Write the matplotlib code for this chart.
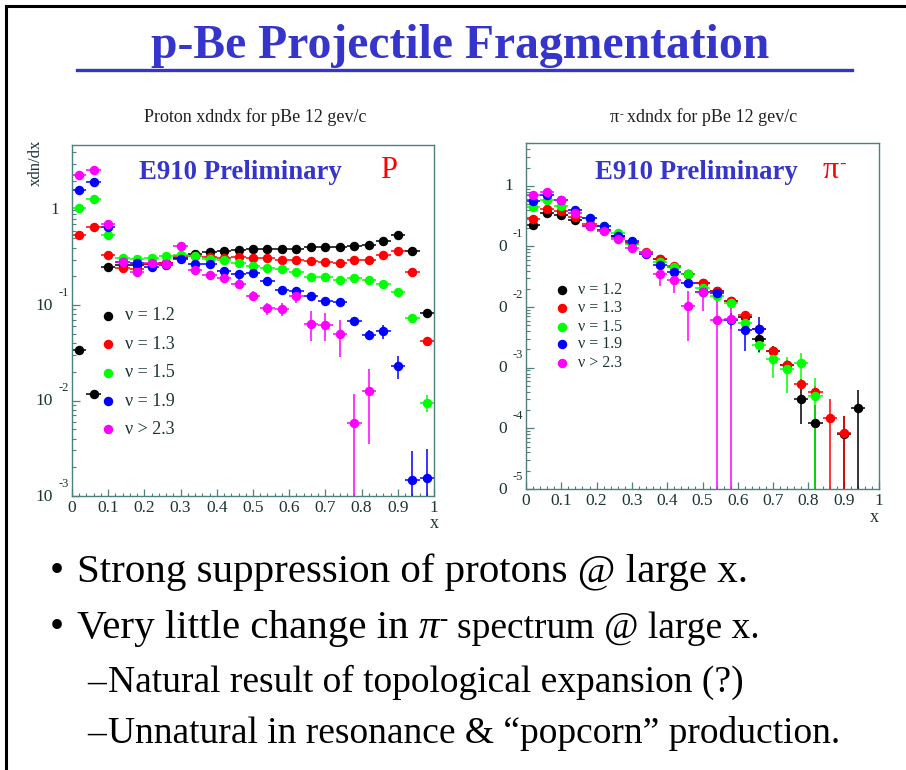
import numpy as np
import matplotlib
matplotlib.use("Agg")
import matplotlib.pyplot as plt
from matplotlib.lines import Line2D
from matplotlib.ticker import FixedLocator, FixedFormatter, NullFormatter, MultipleLocator

plt.rcParams['font.family'] = ['Liberation Serif', 'DejaVu Serif']
plt.rcParams['mathtext.fontset'] = 'stix'

nan = np.nan

# ---------------- data ----------------
x_bins = [0.02, 0.06, 0.10, 0.14, 0.18, 0.22, 0.26, 0.30, 0.34, 0.38, 0.42, 0.46, 0.50,
          0.54, 0.58, 0.62, 0.66, 0.70, 0.74, 0.78, 0.82, 0.86, 0.90, 0.94, 0.98]
bin_half_width = 0.02

series_labels = ["ν = 1.2", "ν = 1.3", "ν = 1.5", "ν = 1.9", "ν > 2.3"]
series_colors = ["#000000", "#ff0000", "#00ff00", "#0000ff", "#ff00ff"]

# proton x dn/dx
p_nu12 = [0.034, 0.0118, 0.252, 0.26, 0.265, 0.27, 0.274, 0.309, 0.34, 0.361, 0.370, 0.374, 0.383,
          0.39, 0.387, 0.383, 0.405, 0.405, 0.405, 0.419, 0.429, 0.468, 0.540, 0.371, 0.0826]
p_nu13 = [0.536, 0.654, 0.337, 0.245, 0.237, 0.27, 0.279, 0.327, 0.327, 0.316, 0.31, 0.316, 0.31,
          0.31, 0.299, 0.299, 0.292, 0.285, 0.279, 0.299, 0.297, 0.337, 0.365, 0.221, 0.042]
p_nu15 = [1.03, 1.30, 0.536, 0.309, 0.302, 0.31, 0.327, 0.337, 0.327, 0.307, 0.296, 0.274, 0.257,
          0.245, 0.237, 0.224, 0.199, 0.199, 0.182, 0.191, 0.185, 0.166, 0.138, 0.0738, 0.0095]
p_nu19 = [1.59, 1.93, 0.66, 0.283, 0.274, 0.253, 0.261, 0.302, 0.27, 0.267, 0.23, 0.21, 0.219,
          0.179, 0.145, 0.142, 0.124, 0.109, 0.107, 0.068, 0.049, 0.053, 0.0232, 0.00147, 0.00154]
p_nu23 = [2.30, 2.61, 0.715, 0.283, 0.222, 0.279, 0.27, 0.415, 0.233, 0.207, 0.191, 0.166, 0.125,
          0.0923, 0.0908, 0.125, 0.064, 0.0624, 0.0494, 0.0058, 0.0125, nan, nan, nan, nan]

# relative uncertainties of the proton points
p_rel12 = [0.08, 0.08, 0.06, 0.06, 0.06, 0.06, 0.06, 0.06, 0.06, 0.06, 0.06, 0.06, 0.06,
           0.06, 0.06, 0.06, 0.06, 0.06, 0.06, 0.06, 0.06, 0.06, 0.06, 0.06, 0.10]
p_rel13 = [0.06, 0.06, 0.06, 0.06, 0.06, 0.06, 0.06, 0.06, 0.06, 0.06, 0.06, 0.06, 0.06,
           0.06, 0.06, 0.06, 0.06, 0.06, 0.06, 0.06, 0.06, 0.06, 0.06, 0.07, 0.10]
p_rel15 = [0.06, 0.06, 0.06, 0.06, 0.06, 0.06, 0.06, 0.06, 0.06, 0.06, 0.06, 0.06, 0.06,
           0.06, 0.06, 0.06, 0.06, 0.06, 0.06, 0.06, 0.06, 0.06, 0.07, 0.08, 0.20]
p_rel19 = [0.06, 0.06, 0.06, 0.06, 0.06, 0.06, 0.06, 0.06, 0.06, 0.06, 0.06, 0.06, 0.06,
           0.06, 0.07, 0.07, 0.07, 0.08, 0.08, 0.10, 0.12, 0.17, 0.27, 1.0, 1.0]
p_rel23 = [0.06, 0.06, 0.06, 0.07, 0.07, 0.07, 0.07, 0.08, 0.08, 0.08, 0.10, 0.12, 0.12,
           0.15, 0.15, 0.15, 0.35, 0.32, 0.42, 1.0, 0.72, nan, nan, nan, nan]

# pi- x dn/dx
r_nu12 = [0.224, 0.351, 0.326, 0.277, 0.221, 0.185, 0.148, 0.115, 0.077, 0.0612, 0.0465, 0.0348, 0.0245,
          0.0183, 0.0124, 0.0068, 0.00299, 0.00192, 0.00109, 0.00031, 0.000121, nan, 7.97e-5, 0.000213, nan]
r_nu13 = [0.288, 0.414, 0.379, 0.303, 0.23, 0.19, 0.145, 0.113, 0.0807, 0.0628, 0.0476, 0.0348, 0.025,
          0.0185, 0.0124, 0.0074, 0.00436, 0.00192, 0.00112, 0.000547, 0.000399, 0.000150, 8.28e-5, nan, nan]
r_nu15 = [0.447, 0.589, 0.47, 0.357, 0.291, 0.215, 0.168, 0.111, 0.077, 0.0561, 0.0465, 0.0357, 0.021,
          0.0153, 0.0116, 0.00547, 0.00236, 0.00137, 0.00094, 0.00119, 0.000339, nan, nan, nan, nan]
r_nu19 = [0.553, 0.693, 0.575, 0.404, 0.291, 0.219, 0.151, 0.124, 0.0758, 0.0488, 0.0385, 0.0245, 0.0174,
          0.0170, 0.0062, 0.00424, 0.00436, nan, nan, nan, nan, nan, nan, nan, nan]
r_nu23 = [0.693, 0.787, 0.589, 0.357, 0.221, 0.178, 0.134, 0.095, 0.077, 0.0348, 0.0281, 0.0105, 0.0174,
          0.0062, 0.0063, nan, nan, nan, nan, nan, nan, nan, nan, nan, nan]

# relative uncertainties of the pi- points
r_rel12 = [0.1, 0.1, 0.1, 0.1, 0.1, 0.1, 0.1, 0.1, 0.1, 0.1, 0.1, 0.1, 0.1,
           0.1, 0.1, 0.15, 0.2, 0.2, 0.25, 0.62, 1.0, nan, 1.0, 1.0, nan]
r_rel13 = [0.1, 0.1, 0.1, 0.1, 0.1, 0.1, 0.1, 0.1, 0.1, 0.1, 0.1, 0.1, 0.1,
           0.1, 0.1, 0.15, 0.2, 0.2, 0.2, 0.2, 0.25, 1.0, 0.9, nan, nan]
r_rel15 = [0.1, 0.1, 0.1, 0.1, 0.1, 0.1, 0.1, 0.1, 0.1, 0.1, 0.1, 0.1, 0.1,
           0.1, 0.1, 0.2, 0.25, 0.5, 0.6, 0.45, 1.0, nan, nan, nan, nan]
r_rel19 = [0.1, 0.1, 0.1, 0.1, 0.1, 0.1, 0.1, 0.1, 0.1, 0.1, 0.1, 0.1, 0.1,
           0.2, 0.3, 0.55, 0.58, nan, nan, nan, nan, nan, nan, nan, nan]
r_rel23 = [0.1, 0.1, 0.1, 0.1, 0.1, 0.1, 0.1, 0.1, 0.1, 0.35, 0.4, 0.74, 0.5,
           1.05, 1.05, nan, nan, nan, nan, nan, nan, nan, nan, nan, nan]

x_tick_values = [0, 0.1, 0.2, 0.3, 0.4, 0.5, 0.6, 0.7, 0.8, 0.9, 1.0]
x_tick_labels = ["0", "0.1", "0.2", "0.3", "0.4", "0.5", "0.6", "0.7", "0.8", "0.9", "1"]
p_decades = [-3, -2, -1, 0]
r_decades = [-5, -4, -3, -2, -1, 0]

slide_title = "p-Be Projectile Fragmentation"
proton_title = "Proton xdndx for pBe 12 gev/c"
pion_title_tail = " xdndx for pBe 12 gev/c"
bullet_1 = "Strong suppression of protons @ large x."
bullet_2_head = "Very little change in "
bullet_2_tail = " spectrum @ large x."
sub_1 = "Natural result of topological expansion (?)"
sub_2 = "Unnatural in resonance & \u201cpopcorn\u201d production."

# ---------------- figure layout (pixel helpers) ----------------
W, H = 906, 770
fig = plt.figure(figsize=(W / 100, H / 100), dpi=100)
renderer = fig.canvas.get_renderer()


def fx(px):
    return px / W


def fy(py):
    return 1 - py / H


def ink_width(s, **kw):
    t = fig.text(0, 0, s, **kw)
    w = t.get_window_extent(renderer=renderer).width
    t.remove()
    return w


def advance(s, **kw):
    # horizontal advance of s (spaces included), in pixels
    return ink_width("x" + s + "x", **kw) - ink_width("xx", **kw)


def draw_runs(x_px, y_px, runs):
    """Write consecutive text runs on one baseline; each run is (text, kwargs, raise_px)."""
    x = x_px
    for s, kw, dy in runs:
        core = s.strip(" ")
        lead = len(s) - len(s.lstrip(" "))
        trail = len(s) - len(s.rstrip(" "))
        if lead:
            x += advance(" " * lead, **kw)
        fig.text(fx(x), fy(y_px - dy), core, ha="left", va="baseline", **kw)
        x += advance(core, **kw)
        if trail:
            x += advance(" " * trail, **kw)
    return x


FRAME = "#4f7f7f"
LABEL = "#1c3434"
BLUE = "#3535cc"

# slide border (top and left)
fig.add_artist(Line2D([fx(6), fx(6)], [0, fy(6)], color="black", lw=2.2))
fig.add_artist(Line2D([fx(6), 1], [fy(6), fy(6)], color="black", lw=2.2))

# slide title with underline
fig.text(fx(460), fy(58), slide_title, ha="center", va="baseline",
         fontsize=34.3, fontweight="bold", color=BLUE)
fig.add_artist(Line2D([fx(77), fx(852)], [fy(70), fy(70)], color=BLUE, lw=2.4))


def setup_axes(ax, ylo, yhi, decades, base_label):
    ax.set_yscale("log")
    ax.set_xlim(0, 1)
    ax.set_ylim(ylo, yhi)
    for sp in ax.spines.values():
        sp.set_color(FRAME)
        sp.set_linewidth(1.0)
    ax.xaxis.set_major_locator(FixedLocator(x_tick_values))
    ax.xaxis.set_major_formatter(FixedFormatter(x_tick_labels))
    ax.xaxis.set_minor_locator(MultipleLocator(0.02))
    ax.yaxis.set_major_locator(FixedLocator([10.0 ** d for d in decades]))
    minors = [m * 10.0 ** d for d in range(decades[0], decades[-1] + 1) for m in range(2, 10)]
    ax.yaxis.set_minor_locator(FixedLocator(minors))
    ax.yaxis.set_major_formatter(NullFormatter())
    ax.yaxis.set_minor_formatter(NullFormatter())
    ax.tick_params(axis="x", which="major", direction="in", length=5, width=0.9,
                   color=FRAME, labelcolor=LABEL, labelsize=12.5, pad=3)
    ax.tick_params(axis="x", which="minor", direction="in", length=2.5, width=0.8, color=FRAME)
    ax.tick_params(axis="y", which="major", direction="in", length=6, width=0.9, color=FRAME)
    ax.tick_params(axis="y", which="minor", direction="in", length=3, width=0.8, color=FRAME)
    # log-decade labels drawn as base + raised exponent
    for d in decades:
        yv = 10.0 ** d
        if d == 0:
            ax.annotate("1", xy=(0, yv), xycoords=("axes fraction", "data"),
                        xytext=(-9.5, 0), textcoords="offset points",
                        ha="right", va="center", fontsize=12.5, color=LABEL)
        else:
            ax.annotate(base_label, xy=(0, yv), xycoords=("axes fraction", "data"),
                        xytext=(-13.5, -0.5), textcoords="offset points",
                        ha="right", va="center", fontsize=12.5, color=LABEL)
            ax.annotate(str(d), xy=(0, yv), xycoords=("axes fraction", "data"),
                        xytext=(-9.5, 9), textcoords="offset points",
                        ha="left", va="center", fontsize=9, color=LABEL)


def draw_series(ax, values, rels):
    for vals, rel, col in zip(values, rels, series_colors):
        v = np.array(vals, dtype=float)
        e = v * np.array(rel, dtype=float)
        ax.errorbar(x_bins, v, yerr=e, xerr=bin_half_width, fmt="o", ms=5.8,
                    color=col, mec=col, mfc=col, ecolor=col, elinewidth=1.1, capsize=0)


def draw_key(ax, mx, tx, rows, fsize):
    for lab, col, ry in zip(series_labels, series_colors, rows):
        ax.plot([mx], [ry], "o", ms=5.8, color=col, transform=ax.transAxes, clip_on=False)
        ax.text(tx, ry, lab, transform=ax.transAxes, ha="left", va="center",
                fontsize=fsize, color=LABEL)


# ---------------- proton panel ----------------
axL = fig.add_axes([fx(72), fy(496), (434 - 72) / W, (496 - 145) / H])
setup_axes(axL, 1.0e-3, 4.75, p_decades, "10")
draw_series(axL, [p_nu12, p_nu13, p_nu15, p_nu19, p_nu23],
            [p_rel12, p_rel13, p_rel15, p_rel19, p_rel23])
draw_key(axL, (108 - 72) / 362, (125 - 72) / 362,
         [(496 - y) / 351 for y in (316, 344.3, 372.7, 401, 429.3)], 13)
fig.text(fx(139), fy(179), "E910 Preliminary", ha="left", va="baseline",
         fontsize=19.3, fontweight="bold", color=BLUE)
fig.text(fx(380), fy(177.5), "P", ha="left", va="baseline", fontsize=22, color="#ff0000")
fig.text(fx(255), fy(122.5), proton_title, ha="center", va="baseline",
         fontsize=13, color="#202020")
fig.text(fx(36), fy(140), "xdn/dx", rotation=90, ha="center", va="top",
         fontsize=12, color=LABEL)
fig.text(fx(430), fy(528), "x", ha="left", va="baseline", fontsize=13, color=LABEL)

# ---------------- pi- panel ----------------
axR = fig.add_axes([fx(526), fy(489), (879 - 526) / W, (489 - 143) / H])
setup_axes(axR, 1.0e-5, 5.07, r_decades, "0")
draw_series(axR, [r_nu12, r_nu13, r_nu15, r_nu19, r_nu23],
            [r_rel12, r_rel13, r_rel15, r_rel19, r_rel23])
draw_key(axR, (562 - 526) / 353, (578 - 526) / 353,
         [(489 - y) / 346 for y in (290, 308.3, 326.7, 344.3, 362.7)], 11.5)
fig.text(fx(595), fy(179), "E910 Preliminary", ha="left", va="baseline",
         fontsize=19.3, fontweight="bold", color=BLUE)
draw_runs(823, 177.5, [("π", dict(fontsize=23, color="#ff0000"), 0),
                       ("-", dict(fontsize=14, color="#ff0000"), 9)])
draw_runs(610, 122.5, [("π", dict(fontsize=13, color="#202020"), 0),
                       ("-", dict(fontsize=8, color="#202020"), 5),
                       (pion_title_tail, dict(fontsize=13, color="#202020"), 0)])
fig.text(fx(870), fy(522), "x", ha="left", va="baseline", fontsize=13, color=LABEL)

# ---------------- bullet text ----------------
main_kw = dict(fontsize=29.5, color="black")
tail_kw = dict(fontsize=27, color="black")
sub_kw = dict(fontsize=27, color="black")
fig.text(fx(50), fy(582), "•", ha="left", va="baseline", fontsize=29, color="black")
fig.text(fx(77), fy(582), bullet_1, ha="left", va="baseline", **main_kw)
fig.text(fx(50), fy(638), "•", ha="left", va="baseline", fontsize=29, color="black")
draw_runs(77, 638, [(bullet_2_head, main_kw, 0),
                    ("π", dict(fontsize=29.5, color="black", style="italic"), 0),
                    ("-", dict(fontsize=18, color="black"), 12),
                    (bullet_2_tail, tail_kw, 0)])
fig.text(fx(87), fy(692), "–", ha="left", va="baseline", **sub_kw)
fig.text(fx(108), fy(692), sub_1, ha="left", va="baseline", **sub_kw)
fig.text(fx(87), fy(743), "–", ha="left", va="baseline", **sub_kw)
fig.text(fx(108), fy(743), sub_2, ha="left", va="baseline", **sub_kw)

fig.savefig("out.png", dpi=100)
